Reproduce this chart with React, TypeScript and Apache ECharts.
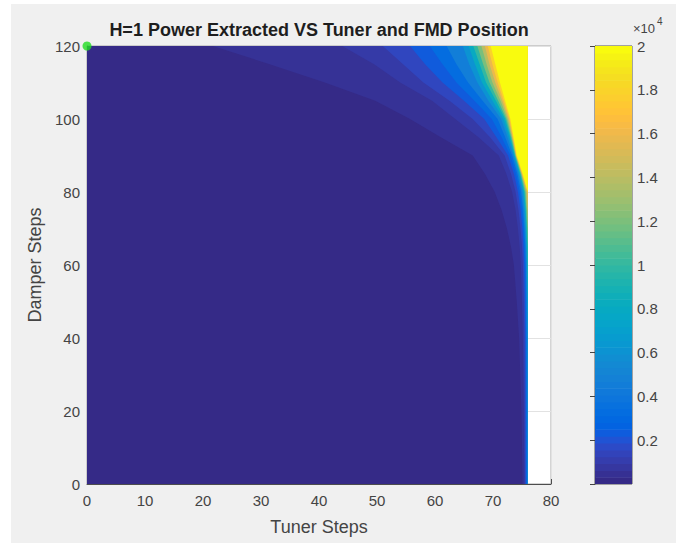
import React, { useEffect, useRef } from "react";
import * as echarts from "echarts";

// ---- data ----
// Damper rows at which the contour positions were read
const damperRows = [0, 20, 40, 50, 60, 65, 70, 75, 80, 85, 90, 95, 100, 105, 110, 115, 120];
// Power levels of the contours (W), colour scale 0 .. 2x10^4
const contourLevels = [400, 800, 1400, 2200, 3200, 4500, 6000, 8000, 10000, 12000, 14000, 16000, 18000, 20000];
// Tuner step at which each level is reached, for each damper row
const c400 = [75.1, 74.9, 74.5, 74.1, 73.6, 73.1, 72.4, 71.5, 70.3, 68.6, 66.5, 61.0, 55.7, 49.7, 41.0, 31.5, 21.7];
const c800 = [75.38, 75.3, 75.15, 75.0, 74.8, 74.6, 74.3, 73.9, 73.3, 72.3, 71.0, 67.5, 63.5, 59.5, 54.0, 49.5, 44.0];
const c1400 = [75.52, 75.48, 75.4, 75.3, 75.15, 75.0, 74.75, 74.4, 73.9, 73.1, 72.0, 69.5, 66.5, 62.5, 58.0, 54.5, 51.0];
const c2200 = [75.65, 75.62, 75.57, 75.5, 75.38, 75.25, 75.05, 74.75, 74.3, 73.6, 72.6, 70.6, 68.5, 65.0, 61.3, 58.3, 55.7];
const c3200 = [75.76, 75.74, 75.7, 75.64, 75.54, 75.42, 75.25, 75.0, 74.6, 73.95, 73.0, 71.5, 69.8, 66.8, 63.7, 61.3, 59.1];
const c4500 = [75.86, 75.84, 75.8, 75.76, 75.67, 75.57, 75.42, 75.2, 74.85, 74.2, 73.3, 72.1, 70.8, 68.2, 65.7, 63.7, 62.0];
const c6000 = [75.95, 75.93, 75.9, 75.86, 75.78, 75.7, 75.56, 75.38, 75.05, 74.4, 73.5, 72.5, 71.4, 69.2, 67.3, 65.9, 64.8];
const c8000 = [76, 76, 76, 75.94, 75.87, 75.8, 75.68, 75.52, 75.25, 74.55, 73.65, 72.8, 71.8, 69.9, 68.1, 66.9, 65.8];
const c10000 = [76, 76, 76, 76, 75.95, 75.9, 75.8, 75.65, 75.4, 74.7, 73.75, 73.0, 72.1, 70.5, 68.8, 67.7, 66.6];
const c12000 = [76, 76, 76, 76, 76, 76, 75.9, 75.77, 75.55, 74.8, 73.85, 73.15, 72.3, 70.9, 69.4, 68.3, 67.3];
const c14000 = [76, 76, 76, 76, 76, 76, 76, 75.88, 75.7, 74.9, 73.93, 73.27, 72.5, 71.3, 69.9, 68.9, 68.0];
const c16000 = [76, 76, 76, 76, 76, 76, 76, 76, 75.85, 74.97, 74.0, 73.37, 72.7, 71.6, 70.4, 69.4, 68.6];
const c18000 = [76, 76, 76, 76, 76, 76, 76, 76, 76, 75.05, 74.05, 73.45, 72.85, 71.85, 70.8, 69.9, 69.1];
const c20000 = [76, 76, 76, 76, 76, 76, 76, 76, 76, 75.12, 74.1, 73.55, 73.0, 72.1, 71.2, 70.4, 69.6];
const contourTuner = [c400, c800, c1400, c2200, c3200, c4500, c6000, c8000, c10000, c12000, c14000, c16000, c18000, c20000];
const tunerStart = 0;
const tunerEnd = 76;
const baseValue = 0;
const colorMin = 0;
const colorMax = 20000;
const optimumPoint = [[0, 120]];
const colorbarScale = 1e4;

// MATLAB parula colormap
const parula = [
  "#352A87", "#363093", "#3637A0", "#353DAD", "#3243BA", "#2C4AC7", "#2053D4", "#0F5CDD",
  "#0363E1", "#0268E1", "#046DE0", "#0871DE", "#0D75DC", "#1079DA", "#127DD8", "#1481D6",
  "#1485D4", "#1389D3", "#108ED2", "#0C93D2", "#0998D1", "#079CCF", "#06A0CD", "#06A4CA",
  "#06A7C6", "#07A9C2", "#0AACBE", "#0FAEB9", "#15B1B4", "#1DB3AF", "#25B5A9", "#2EB7A4",
  "#38B99E", "#42BB98", "#4DBC92", "#59BD8C", "#65BE86", "#71BF80", "#7CBF7B", "#87BF77",
  "#92BF73", "#9CBF6F", "#A5BE6B", "#AEBE67", "#B7BD64", "#C0BC60", "#C8BC5D", "#D1BB59",
  "#D9BA56", "#E1B952", "#E9B94E", "#F1B94A", "#F8BB44", "#FDBE3D", "#FFC337", "#FEC832",
  "#FCCE2E", "#FAD32A", "#F7D826", "#F5DE21", "#F5E41D", "#F5EB18", "#F6F313", "#F9FB0E",
];

const FONT = "'Liberation Sans', Arial, Helvetica, sans-serif";
const TXT = "#444444";

export default function App() {
  const ref = useRef<HTMLDivElement>(null);
  useEffect(() => {
    if (!ref.current) return;
    const chart = echarts.init(ref.current, null, { renderer: "svg" });

    // band k covers everything at or above level k (k=0: whole data area)
    const bandValues = [baseValue, ...contourLevels];
    const bandData = bandValues.map((v, k) => [k, v]);
    const leftContour = (k: number) =>
      k === 0 ? damperRows.map(() => tunerStart) : contourTuner[k - 1];

    const colorbarData = parula.map((_, i) => [i, i]);
    const cbMax = colorMax / colorbarScale;

    chart.setOption({
      animation: false,
      title: {
        text: "H=1 Power Extracted VS Tuner and FMD Position",
        left: 319,
        top: 21,
        textAlign: "center",
        padding: 0,
        textStyle: { fontFamily: FONT, fontSize: 18, fontWeight: "bold", color: "#1e1e1e" },
      },
      visualMap: {
        type: "continuous",
        show: false,
        seriesIndex: 0,
        dimension: 1,
        min: colorMin,
        max: colorMax,
        inRange: { color: parula },
      },
      grid: [
        { left: 87, top: 46, width: 464, height: 438, show: true, backgroundColor: "#ffffff", borderColor: "#a8a8a8", borderWidth: 1 },
        { left: 595, top: 46, width: 37, height: 438, show: true, borderColor: "#555555", borderWidth: 1 },
      ],
      xAxis: [
        {
          type: "value",
          gridIndex: 0,
          min: 0,
          max: 80,
          interval: 10,
          name: "Tuner Steps",
          nameLocation: "middle",
          nameGap: 34,
          nameTextStyle: { fontFamily: FONT, fontSize: 18, color: TXT },
          axisLine: { show: true, lineStyle: { color: "#4d4d4d", width: 1 } },
          axisTick: { show: true, inside: true, length: 5, lineStyle: { color: "#4d4d4d" } },
          axisLabel: { margin: 9, fontFamily: FONT, fontSize: 15, color: TXT },
          splitLine: { show: true, lineStyle: { color: "#e2e2e2", width: 1 } },
        },
        { type: "value", gridIndex: 1, min: 0, max: 1, show: false },
      ],
      yAxis: [
        {
          type: "value",
          gridIndex: 0,
          min: 0,
          max: 120,
          interval: 20,
          name: "Damper Steps",
          nameLocation: "middle",
          nameGap: 42,
          nameTextStyle: { fontFamily: FONT, fontSize: 18, color: TXT },
          axisLine: { show: true, lineStyle: { color: "#6a6a6a", width: 1 } },
          axisTick: { show: true, inside: true, length: 5, lineStyle: { color: "#4d4d4d" } },
          axisLabel: { margin: 7, fontFamily: FONT, fontSize: 15, color: TXT },
          splitLine: { show: true, lineStyle: { color: "#e2e2e2", width: 1 } },
        },
        {
          type: "value",
          gridIndex: 1,
          position: "right",
          min: 0,
          max: cbMax,
          interval: 0.2,
          axisLine: { show: true, lineStyle: { color: "#555555" } },
          axisTick: { show: true, inside: true, length: 5, lineStyle: { color: "#444444" } },
          axisLabel: {
            margin: 5,
            fontFamily: FONT,
            fontSize: 15,
            color: TXT,
            formatter: (v: number) => (v === 0 ? "" : String(Math.round(v * 10) / 10)),
          },
          splitLine: { show: false },
        },
      ],
      graphic: [
        { type: "text", left: 633, top: 22, style: { text: "×10", fontFamily: FONT, fontSize: 13, fill: TXT } },
        { type: "text", left: 657, top: 16, style: { text: "4", fontFamily: FONT, fontSize: 10, fill: TXT } },
      ],
      series: [
        {
          type: "custom",
          xAxisIndex: 0,
          yAxisIndex: 0,
          data: bandData,
          clip: true,
          renderItem: (params: any, api: any) => {
            const k = api.value(0) as number;
            const left = leftContour(k);
            const pts: number[][] = [];
            for (let i = 0; i < damperRows.length; i++) pts.push(api.coord([left[i], damperRows[i]]));
            for (let i = damperRows.length - 1; i >= 0; i--) pts.push(api.coord([tunerEnd, damperRows[i]]));
            return {
              type: "polygon",
              shape: { points: pts },
              style: { fill: api.visual("color") },
            };
          },
        },
        {
          type: "custom",
          xAxisIndex: 1,
          yAxisIndex: 1,
          data: colorbarData,
          renderItem: (params: any, api: any) => {
            const i = api.value(0) as number;
            const lo = (cbMax * i) / parula.length;
            const hi = (cbMax * (i + 1)) / parula.length;
            const p0 = api.coord([0, hi]);
            const p1 = api.coord([1, lo]);
            return {
              type: "rect",
              shape: { x: p0[0], y: p0[1], width: p1[0] - p0[0], height: p1[1] - p0[1] + (i > 0 ? 0.6 : 0) },
              style: { fill: parula[i] },
            };
          },
        },
        {
          type: "scatter",
          xAxisIndex: 0,
          yAxisIndex: 0,
          data: optimumPoint,
          symbol: "circle",
          symbolSize: 9,
          clip: false,
          z: 10,
          itemStyle: { color: "#22dd22" },
        },
      ],
    });
    return () => chart.dispose();
  }, []);

  return (
    <div style={{ position: "fixed", left: 0, top: 0, width: 685, height: 544, background: "#ffffff" }}>
      <div style={{ position: "absolute", left: 11, top: 4, width: 665, height: 539, background: "#f0f0f0" }} />
      <div ref={ref} style={{ position: "absolute", left: 0, top: 0, width: 685, height: 544 }} />
    </div>
  );
}
